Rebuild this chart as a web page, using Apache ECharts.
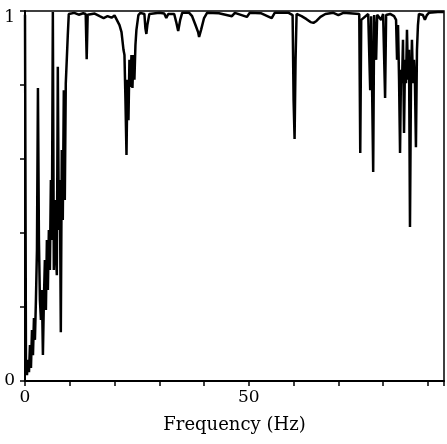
<!DOCTYPE html>
<html>
<head>
<meta charset="utf-8">
<script src="https://cdn.jsdelivr.net/npm/echarts@6/dist/echarts.min.js"></script>
<style>
  html, body { margin: 0; padding: 0; background: #fff; }
  #chart { width: 447px; height: 444px; }
</style>
</head>
<body>
<div id="chart"></div>
<script>
// frequency (Hz) and coherence
const freqs = [
  0, 0.22, 0.44, 0.67, 0.89, 1.11, 1.33, 1.56, 1.78, 2.0, 2.22, 2.44, 2.67, 2.89,
  3.11, 3.33, 3.56, 3.78, 4.0, 4.22, 4.44, 4.67, 4.89, 5.11, 5.33, 5.56, 5.78, 6.0,
  6.22, 6.44, 6.67, 6.89, 7.11, 7.33, 7.56, 7.78, 8.0, 8.22, 8.44, 8.67, 8.89, 9.11,
  9.33, 9.56, 9.78, 10.0, 11.0, 12.0, 13.0, 13.56, 13.78, 14.0, 14.44, 15.56, 16.67,
  17.56, 18.44, 19.33, 20.0, 20.44, 21.11, 21.56, 22.0, 22.22, 22.44, 22.67, 22.89,
  23.11, 23.33, 23.56, 23.78, 24.0, 24.22, 24.44, 24.67, 24.89, 25.33, 25.78, 26.67,
  26.89, 27.11, 27.33, 27.78, 30.0, 31.11, 31.56, 32.0, 33.33, 33.78, 34.22, 34.67,
  35.11, 36.67, 37.33, 38.0, 38.67, 38.89, 39.33, 40.0, 40.67, 43.33, 46.22, 46.89,
  49.56, 50.22, 52.67, 55.11, 55.78, 58.89, 59.78, 60.0, 60.22, 60.44, 60.67, 61.78,
  62.89, 63.78, 64.44, 65.11, 66.0, 67.11, 68.89, 70.0, 71.11, 74.67, 74.89, 75.11,
  76.67, 77.11, 77.33, 77.78, 78.0, 78.44, 78.67, 79.56, 80.0, 80.44, 80.67, 81.56,
  82.44, 82.89, 83.11, 83.33, 83.56, 83.78, 84.0, 84.22, 84.44, 84.67, 84.89, 85.11,
  85.33, 85.56, 85.78, 86.0, 86.22, 86.44, 86.67, 86.89, 87.11, 87.33, 87.56, 87.78,
  88.0, 88.89, 89.33, 89.78, 90.22, 92.22, 93.56
];
const coherence = [
  0.99, 0.03, 0.016, 0.057, 0.024, 0.097, 0.035, 0.138, 0.07, 0.17, 0.111, 0.219, 0.354, 0.792,
  0.381, 0.219, 0.165, 0.246, 0.07, 0.219, 0.327, 0.192, 0.381, 0.246, 0.408, 0.3, 0.543, 0.381,
  0.997, 0.3, 0.489, 0.354, 0.286, 0.849, 0.408, 0.543, 0.132, 0.624, 0.435, 0.786, 0.489, 0.805,
  0.868, 0.935, 0.992, 0.992, 0.995, 0.99, 0.994, 0.992, 0.87, 0.99, 0.995, 0.993, 0.986,
  0.981, 0.986, 0.982, 0.988, 0.989, 0.962, 0.943, 0.895, 0.881, 0.759, 0.611, 0.814,
  0.705, 0.868, 0.795, 0.881, 0.792, 0.881, 0.814, 0.908, 0.949, 0.989, 0.995, 0.992,
  0.954, 0.938, 0.962, 0.992, 0.995, 0.993, 0.981, 0.992, 0.992, 0.97, 0.946, 0.976,
  0.995, 0.995, 0.986, 0.965, 0.943, 0.93, 0.949, 0.981, 0.995, 0.994, 0.986, 0.995,
  0.984, 0.995, 0.994, 0.981, 0.995, 0.995, 0.989, 0.759, 0.654, 0.868, 0.992, 0.986,
  0.978, 0.97, 0.968, 0.973, 0.984, 0.992, 0.995, 0.989, 0.995, 0.992, 0.616, 0.976,
  0.992, 0.786, 0.986, 0.565, 0.989, 0.868, 0.99, 0.976, 0.992, 0.765, 0.989, 0.992,
  0.986, 0.976, 0.868, 0.962, 0.814, 0.616, 0.841, 0.805, 0.922, 0.67, 0.868, 0.805,
  0.949, 0.814, 0.895, 0.416, 0.805, 0.922, 0.805, 0.868, 0.805, 0.632, 0.895, 0.962,
  0.992, 0.989, 0.976, 0.989, 0.995, 0.997, 0.997
];
const xLabels = [0, 50];
const yLabels = [0, 1];

const chart = echarts.init(document.getElementById('chart'));
const font = 'DejaVu Serif';

chart.setOption({
  animation: false,
  grid: {
    left: 25, right: 1, top: 11, bottom: 63,
    show: true, borderColor: '#000', borderWidth: 1.5
  },
  xAxis: {
    type: 'value',
    min: 0, max: 93.6, interval: 10,
    name: 'Frequency (Hz)',
    nameLocation: 'middle',
    nameGap: 35,
    nameTextStyle: {color: '#000', fontFamily: font, fontSize: 18},
    axisLine: {lineStyle: {color: '#000', width: 2}},
    axisTick: {inside: false, length: 5, lineStyle: {color: '#000', width: 1.5}},
    splitLine: {show: false},
    axisLabel: {
      color: '#000', fontFamily: font, fontSize: 17, margin: 8,
      formatter: v => xLabels.includes(v) ? String(v) : ''
    }
  },
  yAxis: {
    type: 'value',
    min: 0, max: 1, interval: 0.2,
    axisLine: {show: true, lineStyle: {color: '#000', width: 2}},
    axisTick: {show: true, inside: false, length: 5, lineStyle: {color: '#000', width: 1.5}},
    splitLine: {show: false},
    axisLabel: {
      color: '#000', fontFamily: font, fontSize: 17, margin: 10,
      formatter: v => v === 1 ? '{top|1}' : (yLabels.includes(v) ? String(v) : ''),
      rich: {top: {fontFamily: font, fontSize: 17, color: '#000', padding: [14, 0, 0, 0]}}
    }
  },
  series: [{
    type: 'line',
    data: freqs.map((f, i) => [f, coherence[i]]),
    showSymbol: false,
    lineStyle: {color: '#000', width: 2.5},
    clip: true
  }]
});
</script>
</body>
</html>
